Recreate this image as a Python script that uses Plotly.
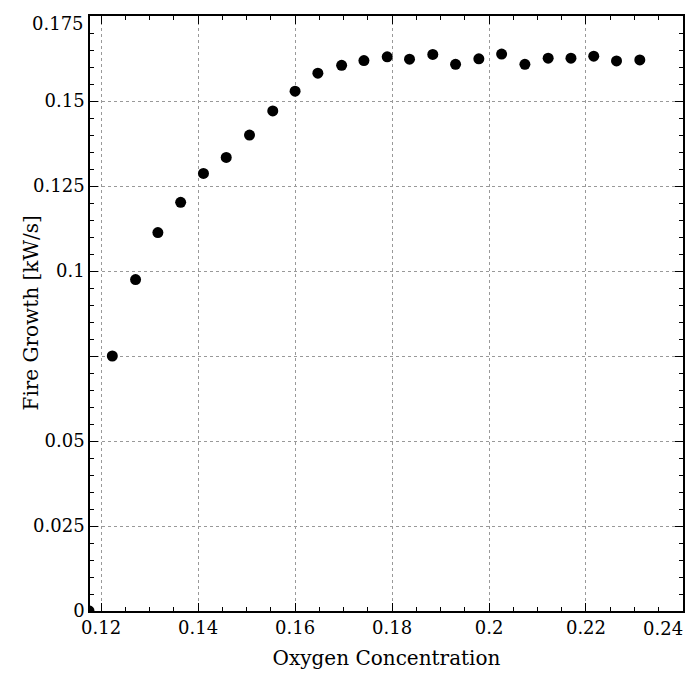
import plotly.graph_objects as go

# oxygen concentration vs fire growth
oxygen = [0.1175, 0.1223, 0.1271, 0.1317, 0.1364, 0.1411, 0.1458, 0.1506,
          0.1554, 0.1600, 0.1647, 0.1696, 0.1742, 0.1790, 0.1836, 0.1884,
          0.1931, 0.1979, 0.2026, 0.2074, 0.2122, 0.2169, 0.2216, 0.2263,
          0.2311]
fire_growth = [0.0, 0.0750, 0.0975, 0.1113, 0.1202, 0.1287, 0.1334, 0.1400,
               0.1471, 0.1529, 0.1582, 0.1605, 0.1619, 0.1630, 0.1623, 0.1637,
               0.1608, 0.1624, 0.1638, 0.1608, 0.1626, 0.1626, 0.1632, 0.1618,
               0.1621]

x_ticks = [0.12, 0.14, 0.16, 0.18, 0.20, 0.22, 0.24]
x_labels = ['0.12', '0.14', '0.16', '0.18', '0.2', '0.22', '0.24']
y_ticks = [0, 0.025, 0.05, 0.075, 0.1, 0.125, 0.15, 0.175]
y_labels = ['0', '0.025', '0.05', '', '0.1', '0.125', '0.15', '0.175']

font_family = 'DejaVu Serif'
x_range = [0.1177, 0.24001]
y_range = [0, 0.17501]

fig = go.Figure()

fig.add_trace(go.Scatter(
    x=oxygen,
    y=fire_growth,
    mode='markers',
    marker=dict(color='black', size=11),
    cliponaxis=True,
    showlegend=False
))

# dummy trace so the top/right axes get drawn (mirrored ticks incl. minor)
fig.add_trace(go.Scatter(
    x=[oxygen[1]], y=[fire_growth[1]], xaxis='x2', yaxis='y2',
    mode='markers', marker=dict(opacity=0), hoverinfo='skip',
    showlegend=False
))

tick_style = dict(
    ticks='inside',
    ticklen=8,
    tickwidth=1.2,
    tickcolor='black',
    zeroline=False,
    automargin=False,
    minor=dict(dtick=0.005, ticks='inside', ticklen=4, tickcolor='black',
               tickwidth=1, showgrid=False),
)

main_style = dict(
    tick_style,
    showline=True,
    linecolor='black',
    linewidth=1.5,
    mirror=True,
    showgrid=True,
    gridcolor='#999999',
    griddash='dot',
    gridwidth=1,
    tickfont=dict(family=font_family, size=18, color='black'),
)

# the end labels sit against the frame edge, so draw them as annotations
# (shifted inwards like in the original) and blank them on the axes
x_axis_text = x_labels[:-1] + ['']
y_axis_text = y_labels[:-1] + ['']

fig.update_layout(
    xaxis=dict(
        main_style,
        range=x_range,
        tickmode='array',
        tickvals=x_ticks,
        ticktext=x_axis_text,
        title=dict(text='Oxygen Concentration', standoff=14,
                   font=dict(family=font_family, size=20, color='black')),
    ),
    yaxis=dict(
        main_style,
        range=y_range,
        tickmode='array',
        tickvals=y_ticks,
        ticktext=y_axis_text,
    ),
    xaxis2=dict(
        tick_style,
        overlaying='x', side='top', range=x_range,
        tickmode='array', tickvals=x_ticks, showticklabels=False,
        showgrid=False, showline=False,
    ),
    yaxis2=dict(
        tick_style,
        overlaying='y', side='right', range=y_range,
        tickmode='array', tickvals=y_ticks, showticklabels=False,
        showgrid=False, showline=False,
    ),
    # page body adds ~8px offset, so the figure is a bit smaller than the window
    width=686,
    height=665,
    plot_bgcolor='white',
    paper_bgcolor='white',
    margin=dict(l=82, r=11, t=8, b=62, autoexpand=False),
    font=dict(family=font_family, color='black'),
)

label_font = dict(family=font_family, size=18, color='black')
fig.add_annotation(
    x=x_ticks[-1], xref='x', y=0, yref='paper',
    text=x_labels[-1], showarrow=False, font=label_font,
    xanchor='right', yanchor='top', yshift=-5, xshift=2,
)
fig.add_annotation(
    x=0, xref='paper', y=y_ticks[-1], yref='y',
    text=y_labels[-1], showarrow=False, font=label_font,
    xanchor='right', yanchor='top', xshift=-4, yshift=5,
)
# y-axis title as an annotation so it can sit close to the tick labels
fig.add_annotation(
    x=0, xref='paper', y=0.5, yref='paper',
    text='Fire Growth [kW/s]', showarrow=False, textangle=-90,
    font=dict(family=font_family, size=20, color='black'),
    xanchor='center', yanchor='middle', xshift=-60,
)

fig.write_html('out.html')
